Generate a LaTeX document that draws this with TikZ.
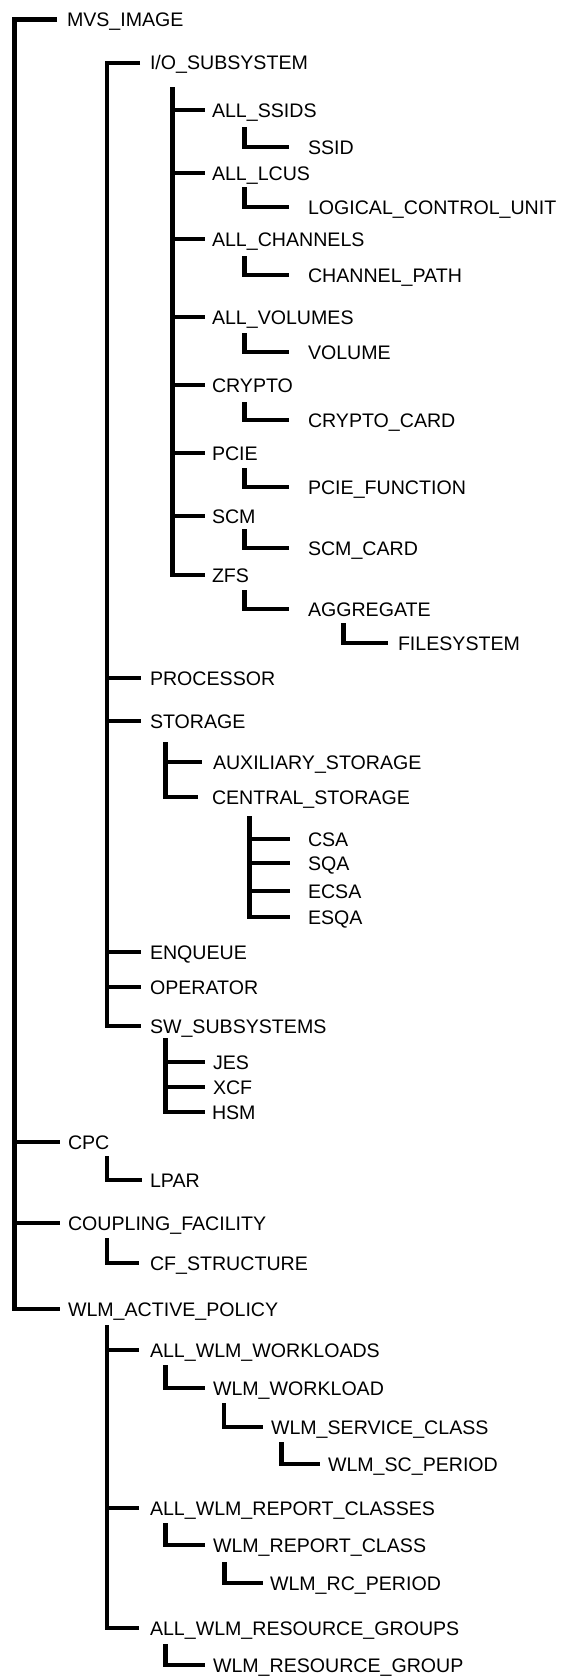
\documentclass[tikz,border=0pt]{standalone}
\usepackage{fontspec}
\setmainfont{Liberation Sans}
\begin{document}
\begin{tikzpicture}[x=1pt,y=-1pt,
  tl/.style={line width=4.2pt,line join=miter,line cap=butt,draw=black},
  lbl/.style={anchor=west,inner sep=0pt,outer sep=0pt,text height=14pt,text depth=0pt,
    font=\fontsize{19.6}{22}\selectfont,text=black}]
\useasboundingbox (0,0) rectangle (561,1678);
% ---- labels ----
\node[lbl] (mvs)   at (67,19.5) {MVS\_IMAGE};
\node[lbl] (io)    at (150,63)  {I/O\_SUBSYSTEM};
\node[lbl] (ssids) at (212,110) {ALL\_SSIDS};
\node[lbl] (ssid)  at (308,147) {SSID};
\node[lbl] (lcus)  at (212,173) {ALL\_LCUS};
\node[lbl] (lcu)   at (308,207) {LOGICAL\_CONTROL\_UNIT};
\node[lbl] (chans) at (212,239) {ALL\_CHANNELS};
\node[lbl] (chp)   at (308,275) {CHANNEL\_PATH};
\node[lbl] (vols)  at (212,317) {ALL\_VOLUMES};
\node[lbl] (vol)   at (308,352) {VOLUME};
\node[lbl] (crypto) at (212,385) {CRYPTO};
\node[lbl] (ccard) at (308,420) {CRYPTO\_CARD};
\node[lbl] (pcie)  at (212,453) {PCIE};
\node[lbl] (pcief) at (308,487) {PCIE\_FUNCTION};
\node[lbl] (scm)   at (212,516) {SCM};
\node[lbl] (scmc)  at (308,548) {SCM\_CARD};
\node[lbl] (zfs)   at (212,575) {ZFS};
\node[lbl] (aggr)  at (308,609) {AGGREGATE};
\node[lbl] (fs)    at (398,643) {FILESYSTEM};
\node[lbl] (proc)  at (150,678) {PROCESSOR};
\node[lbl] (stor)  at (150,721) {STORAGE};
\node[lbl] (aux)   at (213,762) {AUXILIARY\_STORAGE};
\node[lbl] (cent)  at (212,797) {CENTRAL\_STORAGE};
\node[lbl] (csa)   at (308,839) {CSA};
\node[lbl] (sqa)   at (308,863) {SQA};
\node[lbl] (ecsa)  at (308,891) {ECSA};
\node[lbl] (esqa)  at (308,917) {ESQA};
\node[lbl] (enq)   at (150,952) {ENQUEUE};
\node[lbl] (oper)  at (150,987) {OPERATOR};
\node[lbl] (sw)    at (150,1026) {SW\_SUBSYSTEMS};
\node[lbl] (jes)   at (213,1062) {JES};
\node[lbl] (xcf)   at (213,1087) {XCF};
\node[lbl] (hsm)   at (212,1112) {HSM};
\node[lbl] (cpc)   at (68,1142) {CPC};
\node[lbl] (lpar)  at (150,1180) {LPAR};
\node[lbl] (cf)    at (68,1223) {COUPLING\_FACILITY};
\node[lbl] (cfs)   at (150,1263) {CF\_STRUCTURE};
\node[lbl] (wlm)   at (68,1309) {WLM\_ACTIVE\_POLICY};
\node[lbl] (wlw)   at (150,1350) {ALL\_WLM\_WORKLOADS};
\node[lbl] (wwl)   at (213,1388) {WLM\_WORKLOAD};
\node[lbl] (wsc)   at (271,1427) {WLM\_SERVICE\_CLASS};
\node[lbl] (wscp)  at (328,1464) {WLM\_SC\_PERIOD};
\node[lbl] (wrcs)  at (150,1508) {ALL\_WLM\_REPORT\_CLASSES};
\node[lbl] (wrc)   at (213,1545) {WLM\_REPORT\_CLASS};
\node[lbl] (wrcp)  at (270,1583) {WLM\_RC\_PERIOD};
\node[lbl] (wrgs)  at (150,1628) {ALL\_WLM\_RESOURCE\_GROUPS};
\node[lbl] (wrg)   at (213,1665) {WLM\_RESOURCE\_GROUP};
% ---- root ----
\draw[tl] ([xshift=-10pt]mvs.west) -| (14.5,0 |- wlm.west) -- ([xshift=-8pt]wlm.west);
\draw[tl] (14.5,0 |- cpc.west) -- ([xshift=-8pt]cpc.west);
\draw[tl] (14.5,0 |- cf.west) -- ([xshift=-8pt]cf.west);
% ---- MVS_IMAGE children ----
\draw[tl] ([xshift=-10pt]io.west) -| (107,0 |- sw.west) -- ([xshift=-9pt]sw.west);
\draw[tl] (107,0 |- proc.west) -- ([xshift=-9pt]proc.west);
\draw[tl] (107,0 |- stor.west) -- ([xshift=-9pt]stor.west);
\draw[tl] (107,0 |- enq.west) -- ([xshift=-9pt]enq.west);
\draw[tl] (107,0 |- oper.west) -- ([xshift=-9pt]oper.west);
% ---- I/O_SUBSYSTEM children ----
\draw[tl] (172.5,87) |- ([xshift=-7pt]zfs.west);
\foreach \n in {ssids,lcus,chans,vols,crypto,pcie,scm}
  \draw[tl] (172.5,0 |- \n.west) -- ([xshift=-7pt]\n.west);
\draw[tl] (244.5,127) |- ([xshift=-19pt]ssid.west);
\draw[tl] (244.5,187) |- ([xshift=-19pt]lcu.west);
\draw[tl] (244.5,256) |- ([xshift=-19pt]chp.west);
\draw[tl] (244.5,333) |- ([xshift=-19pt]vol.west);
\draw[tl] (244.5,402) |- ([xshift=-19pt]ccard.west);
\draw[tl] (244.5,468) |- ([xshift=-19pt]pcief.west);
\draw[tl] (244.5,529) |- ([xshift=-19pt]scmc.west);
\draw[tl] (244.5,590) |- ([xshift=-19pt]aggr.west);
\draw[tl] (343.5,623) |- ([xshift=-10pt]fs.west);
% ---- STORAGE ----
\draw[tl] (165.5,742) |- ([xshift=-14pt]cent.west);
\draw[tl] (165.5,0 |- aux.west) -- ([xshift=-11pt]aux.west);
\draw[tl] (249.5,816) |- ([xshift=-18pt]esqa.west);
\foreach \n in {csa,sqa,ecsa}
  \draw[tl] (249.5,0 |- \n.west) -- ([xshift=-18pt]\n.west);
% ---- SW_SUBSYSTEMS ----
\draw[tl] (165.5,1038) |- ([xshift=-7pt]hsm.west);
\foreach \n in {jes,xcf}
  \draw[tl] (165.5,0 |- \n.west) -- ([xshift=-8pt]\n.west);
% ---- CPC, CF ----
\draw[tl] (107,1156) |- ([xshift=-8pt]lpar.west);
\draw[tl] (107,1238) |- ([xshift=-11pt]cfs.west);
% ---- WLM ----
\draw[tl] (107,1325) |- ([xshift=-11pt]wrgs.west);
\draw[tl] (107,0 |- wlw.west) -- ([xshift=-11pt]wlw.west);
\draw[tl] (107,0 |- wrcs.west) -- ([xshift=-11pt]wrcs.west);
\draw[tl] (165.5,1365) |- ([xshift=-8pt]wwl.west);
\draw[tl] (224,1403) |- ([xshift=-8pt]wsc.west);
\draw[tl] (281.5,1442) |- ([xshift=-8pt]wscp.west);
\draw[tl] (165.5,1523) |- ([xshift=-8pt]wrc.west);
\draw[tl] (224.5,1562) |- ([xshift=-7pt]wrcp.west);
\draw[tl] (165.5,1644) |- ([xshift=-8pt]wrg.west);
\end{tikzpicture}
\end{document}
